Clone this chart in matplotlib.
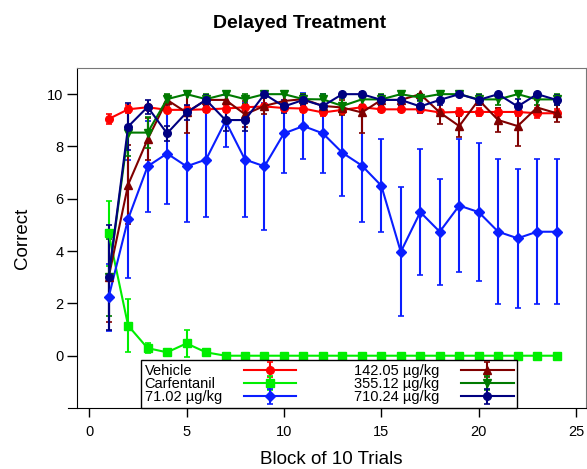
import matplotlib
matplotlib.use('Agg')
import matplotlib.pyplot as plt

plt.rcParams['font.family'] = ['Liberation Sans', 'DejaVu Sans']

blocks = list(range(1, 25))

vehicle = [9.05, 9.42, 9.5, 9.4, 9.4, 9.42, 9.45, 9.5, 9.53, 9.47, 9.45, 9.3,
           9.4, 9.5, 9.42, 9.42, 9.42, 9.3, 9.32, 9.32, 9.32, 9.32, 9.27, 9.27]
vehicle_err = [0.2, 0.15, 0.1, 0.1, 0.15, 0.1, 0.15, 0.15, 0.1, 0.1, 0.15, 0.15,
               0.15, 0.1, 0.1, 0.1, 0.1, 0.1, 0.15, 0.15, 0.15, 0.15, 0.2, 0.15]

carf = [4.68, 1.15, 0.29, 0.13, 0.47, 0.13, 0, 0, 0, 0, 0, 0,
        0, 0, 0, 0, 0, 0, 0, 0, 0, 0, 0, 0]
carf_err = [1.25, 1.0, 0.2, 0.1, 0.5, 0.1, 0, 0, 0, 0, 0, 0,
            0, 0, 0, 0, 0, 0, 0, 0, 0, 0, 0, 0]

dose71 = [2.24, 5.23, 7.24, 7.73, 7.24, 7.5, 8.97, 7.5, 7.24, 8.5, 8.78, 8.5,
          7.76, 7.27, 6.5, 3.97, 5.49, 4.74, 5.74, 5.49, 4.74, 4.49, 4.74, 4.74]
dose71_err = [1.28, 2.24, 1.75, 1.92, 2.14, 2.18, 1.0, 2.18, 2.43, 1.52, 1.26, 1.52,
              1.67, 2.14, 1.77, 2.47, 2.4, 2.02, 2.54, 2.64, 2.77, 2.65, 2.77, 2.77]

dose142 = [3.0, 6.54, 8.27, 9.78, 9.3, 9.78, 9.78, 9.23, 9.55, 9.74, 9.81, 9.55,
           9.49, 9.3, 9.78, 9.78, 10.0, 9.3, 8.78, 9.78, 9.01, 8.78, 9.49, 9.27]
dose142_err = [1.7, 1.5, 0.8, 0.2, 0.77, 0.2, 0.3, 0.5, 0.3, 0.25, 0.2, 0.3,
               0.3, 0.77, 0.2, 0.2, 0.0, 0.45, 0.4, 0.2, 0.45, 0.77, 0.3, 0.35]

dose355 = [3.0, 8.53, 8.53, 9.81, 10.0, 9.81, 10.0, 9.81, 10.0, 10.0, 9.81, 9.8,
           9.55, 9.8, 9.8, 10.0, 9.87, 10.0, 10.0, 9.8, 9.8, 10.0, 9.8, 9.8]
dose355_err = [1.47, 0.9, 0.6, 0.2, 0, 0.2, 0, 0.2, 0, 0, 0.2, 0.2,
               0.3, 0.2, 0.2, 0, 0.15, 0, 0, 0.2, 0.2, 0, 0.2, 0.2]

dose710 = [3.0, 8.76, 9.51, 8.5, 9.3, 9.78, 9.01, 9.01, 10.0, 9.53, 9.78, 9.55,
           10.0, 10.0, 9.78, 9.78, 9.53, 9.78, 10.0, 9.78, 10.0, 9.53, 10.0, 9.78]
dose710_err = [2.0, 0.9, 0.27, 0.3, 0.3, 0.2, 0.4, 0.4, 0, 0.25, 0.2, 0.25,
               0, 0, 0.2, 0.2, 0.25, 0.2, 0, 0.2, 0, 0.3, 0, 0.2]

series = [
    ('Vehicle', vehicle, vehicle_err, '#ff0000', 'o'),
    ('Carfentanil', carf, carf_err, '#00ee00', 's'),
    ('71.02 \u00b5g/kg', dose71, dose71_err, '#0a1eff', 'D'),
    ('142.05 \u00b5g/kg', dose142, dose142_err, '#800000', '^'),
    ('355.12 \u00b5g/kg', dose355, dose355_err, '#007a00', 'v'),
    ('710.24 \u00b5g/kg', dose710, dose710_err, '#000080', 'o'),
]

fig = plt.figure(figsize=(5.87, 4.69), dpi=100)
ax = fig.add_axes([0.132, 0.13, 0.866, 0.725])

for name, vals, err, col, mk in series:
    ax.errorbar(blocks, vals, yerr=err, color=col, marker=mk, markersize=5.5,
                linewidth=1.5, elinewidth=1.5, capsize=2.5, capthick=1.2,
                label=name)

ax.set_xlim(-0.6, 25.5)
ax.set_ylim(-2, 11)
ax.set_xticks([0, 5, 10, 15, 20, 25])
ax.set_yticks([0, 2, 4, 6, 8, 10])
ax.tick_params(axis='x', length=6.5, width=1, pad=6, labelsize=10.5)
ax.tick_params(axis='y', length=7, width=1, pad=3, labelsize=10.5)
for s in ['top', 'right']:
    ax.spines[s].set_color('#777777')
ax.spines['bottom'].set_bounds(-1.1, 25.5)

ax.set_xlabel('Block of 10 Trials', fontsize=13.5, labelpad=8)
ax.set_ylabel('Correct', fontsize=13.5, labelpad=12)
fig.suptitle('Delayed Treatment', fontsize=14, fontweight='bold', x=0.51, y=0.968)

leg = ax.legend(ncol=2, markerfirst=False, loc='lower left',
                bbox_to_anchor=(0.125, 0.0, 0.74, 0.13), mode='expand',
                borderaxespad=0, borderpad=0.25, labelspacing=-0.05,
                handlelength=3.6, handletextpad=1.5, fontsize=10.5,
                fancybox=False, edgecolor='black', framealpha=1)
leg.get_frame().set_linewidth(1)

# line up the handles in each column, keep the labels left aligned
fig.canvas.draw()
r = fig.canvas.get_renderer()
for colbox in leg._legend_handle_box.get_children():
    rows = colbox.get_children()
    ws = [row.get_children()[0].get_window_extent(r).width for row in rows]
    for row, w in zip(rows, ws):
        row.sep += (max(ws) - w) * 72.0 / fig.dpi

fig.savefig('out.png', dpi=100)
